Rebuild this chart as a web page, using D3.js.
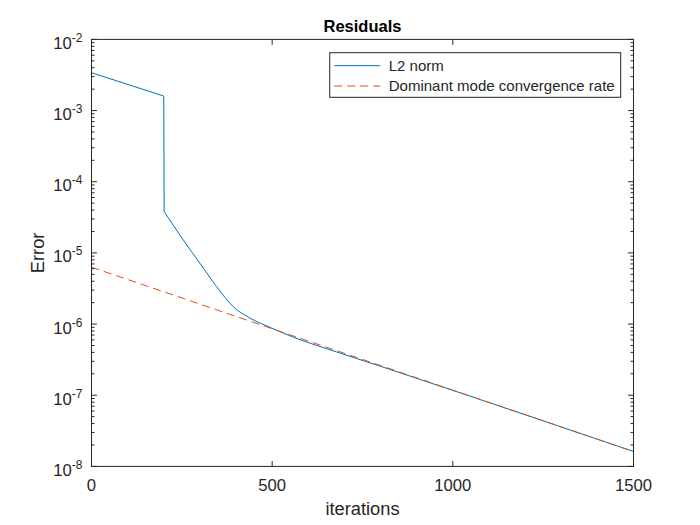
<!DOCTYPE html>
<html>
<head>
<meta charset="utf-8">
<script src="https://cdn.jsdelivr.net/npm/d3@7"></script>
<style>
	body { margin: 0; background: #fff; }
	svg { display: block; font-family: "Liberation Sans", Arial, sans-serif; }
</style>
</head>
<body>
<svg id="chart" width="700" height="525"></svg>
<script>
// L2 norm residual
var normIter = [ 0, 200, 201, 254, 300, 346, 392, 439, 485, 560, 660, 800, 1000, 1200, 1500 ];
var normErr = [ 3.4e-3, 1.6e-3, 3.81e-5, 1.52e-5, 7.16e-6, 3.37e-6, 1.76e-6, 1.21e-6, 9.4e-7, 6.5e-7, 4.35e-7, 2.55e-7, 1.17e-7, 5.33e-8, 1.62e-8 ];
// index where the drop ends and the smooth decay starts
var decayStart = 2;

// dominant mode convergence rate (straight line on log axis)
var rateIter = [ 0, 500, 1000, 1500 ];
var rateErr = [ 6.3e-6, 8.6e-7, 1.18e-7, 1.62e-8 ];

var xTicks = [ 0, 500, 1000, 1500 ];
var yTickExp = [ -2, -3, -4, -5, -6, -7, -8 ];
var seriesNames = [ "L2 norm", "Dominant mode convergence rate" ];
var seriesColors = [ "#0072BD", "#D95319" ];

var axisColor = "#262626";
var margin = { left: 91.5, right: 633.5, top: 39.4, bottom: 466.4 };

var svg = d3.select( "#chart" );

var x = d3.scaleLinear().domain( [ 0, 1500 ] ).range( [ margin.left, margin.right ] );
var y = d3.scaleLog().domain( [ 1e-8, 1e-2 ] ).range( [ margin.bottom, margin.top ] );

// minor ticks 2..9 per decade
var minorTicks = [];
yTickExp.slice( 1 ).forEach( function( e ) {
	for ( var k = 2; k <= 9; k++ ) minorTicks.push( k * Math.pow( 10, e ) );
});

var plot = svg.append( "g" ).attr( "class", "plot" );

// lines
var straightLine = d3.line()
	.x( function( d ) { return x( d[0] ); } )
	.y( function( d ) { return y( d[1] ); } );
var smoothLine = d3.line()
	.x( function( d ) { return x( d[0] ); } )
	.y( function( d ) { return y( d[1] ); } )
	.curve( d3.curveMonotoneX );

var normPts = d3.zip( normIter, normErr );
var normPath = straightLine( normPts.slice( 0, decayStart + 1 ) ) +
	smoothLine( normPts.slice( decayStart ) ).replace( /^M[^CL]*/, "" );

plot.append( "path" )
	.attr( "d", normPath )
	.style( "fill", "none" )
	.style( "stroke", seriesColors[0] )
	.style( "stroke-width", 1 )
	.style( "stroke-linejoin", "round" );

plot.append( "path" )
	.datum( d3.zip( rateIter, rateErr ) )
	.attr( "d", straightLine )
	.style( "fill", "none" )
	.style( "stroke", seriesColors[1] )
	.style( "stroke-width", 1 )
	.style( "stroke-dasharray", "8,5" );

// box and ticks
var axes = svg.append( "g" ).attr( "class", "axes" );
var majorLen = 5.4, minorLen = 3;

axes.selectAll( "line.xtick" )
	.data( xTicks.concat( xTicks ) )
	.enter().append( "line" )
	.attr( "x1", function( d ) { return x( d ); } )
	.attr( "x2", function( d ) { return x( d ); } )
	.attr( "y1", function( d, i ) { return i < xTicks.length ? margin.bottom : margin.top; } )
	.attr( "y2", function( d, i ) { return i < xTicks.length ? margin.bottom - majorLen : margin.top + majorLen; } )
	.style( "stroke", axisColor );

var yMajor = yTickExp.map( function( e ) { return Math.pow( 10, e ); } );
var yAll = yMajor.map( function( v ) { return { v: v, len: majorLen }; } )
	.concat( minorTicks.map( function( v ) { return { v: v, len: minorLen }; } ) );

[ margin.left, margin.right ].forEach( function( edge, side ) {
	axes.selectAll( "line.ytick" + side )
		.data( yAll )
		.enter().append( "line" )
		.attr( "class", "ytick" + side )
		.attr( "x1", edge )
		.attr( "x2", function( d ) { return side === 0 ? edge + d.len : edge - d.len; } )
		.attr( "y1", function( d ) { return y( d.v ); } )
		.attr( "y2", function( d ) { return y( d.v ); } )
		.style( "stroke", axisColor );
});

axes.append( "rect" )
	.attr( "x", margin.left )
	.attr( "y", margin.top )
	.attr( "width", margin.right - margin.left )
	.attr( "height", margin.bottom - margin.top )
	.style( "fill", "none" )
	.style( "stroke", axisColor )
	.style( "stroke-width", 1 );

// tick labels
axes.selectAll( "text.xlabel" )
	.data( xTicks )
	.enter().append( "text" )
	.attr( "class", "xlabel" )
	.attr( "x", function( d ) { return x( d ); } )
	.attr( "y", 491 )
	.attr( "text-anchor", "middle" )
	.style( "font-size", "16.7px" )
	.style( "fill", axisColor )
	.text( function( d ) { return d; } );

var yLabels = axes.selectAll( "text.ylabel" )
	.data( yTickExp )
	.enter().append( "text" )
	.attr( "class", "ylabel" )
	.attr( "x", 82.5 )
	.attr( "y", function( d ) { return y( Math.pow( 10, d ) ) + 9.5; } )
	.attr( "text-anchor", "end" )
	.style( "font-size", "16.7px" )
	.style( "fill", axisColor );
yLabels.append( "tspan" ).text( "10" );
yLabels.append( "tspan" )
	.attr( "dy", -7 )
	.style( "font-size", "12px" )
	.text( function( d ) { return "-" + Math.abs( d ); } );

// axis titles
svg.append( "text" )
	.attr( "x", ( margin.left + margin.right ) / 2 )
	.attr( "y", 515 )
	.attr( "text-anchor", "middle" )
	.style( "font-size", "18.3px" )
	.style( "fill", axisColor )
	.text( "iterations" );

svg.append( "text" )
	.attr( "transform", "translate(44," + ( ( margin.top + margin.bottom ) / 2 ) + ") rotate(-90)" )
	.attr( "text-anchor", "middle" )
	.style( "font-size", "18.3px" )
	.style( "fill", axisColor )
	.text( "Error" );

svg.append( "text" )
	.attr( "x", ( margin.left + margin.right ) / 2 )
	.attr( "y", 32 )
	.attr( "text-anchor", "middle" )
	.style( "font-size", "16.5px" )
	.style( "font-weight", "bold" )
	.style( "fill", "#000" )
	.text( "Residuals" );

// legend
var legend = svg.append( "g" ).attr( "class", "legend" );
var legendBox = legend.append( "rect" );
var legendRows = legend.selectAll( "g.row" )
	.data( seriesNames )
	.enter().append( "g" )
	.attr( "class", "row" );

legendRows.append( "line" )
	.attr( "x1", 0 ).attr( "x2", 46 )
	.style( "stroke", function( d, i ) { return seriesColors[i]; } )
	.style( "stroke-width", 1 )
	.style( "stroke-dasharray", function( d, i ) { return i === 1 ? "8,5" : null; } );

legendRows.append( "text" )
	.attr( "x", 54.5 )
	.attr( "y", 5.3 )
	.style( "font-size", "15px" )
	.style( "fill", axisColor )
	.text( function( d ) { return d; } );

var textWidth = d3.max( legendRows.selectAll( "text" ).nodes(), function( n ) { return n.getComputedTextLength(); } );
var legendWidth = 54.5 + textWidth + 6;
var legendLeft = margin.right - 12.8 - legendWidth - 4.5;
legendRows.attr( "transform", function( d, i ) { return "translate(" + ( legendLeft + 4.5 ) + "," + ( 65.7 + i * 20.3 ) + ")"; } );
legendBox
	.attr( "x", legendLeft )
	.attr( "y", 52.7 )
	.attr( "width", legendWidth + 4.5 )
	.attr( "height", 44.6 )
	.style( "fill", "#fff" )
	.style( "stroke", axisColor )
	.style( "stroke-width", 1 );
</script>
</body>
</html>
